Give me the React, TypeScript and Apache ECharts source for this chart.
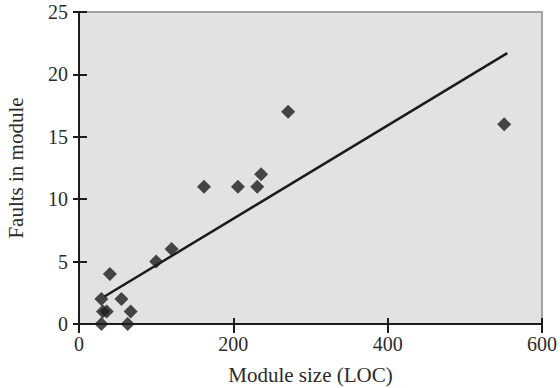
import React, { useEffect, useRef } from "react";
import * as echarts from "echarts";

const moduleSizes = [29, 63, 31, 36, 67, 29, 55, 40, 100, 120, 162, 206, 231, 236, 271, 551];
const faults = [0, 0, 1, 1, 1, 2, 2, 4, 5, 6, 11, 11, 11, 12, 17, 16];
const trendX = [33, 555];
const trendY = [2.2, 21.7];
const xTicks = { min: 0, max: 600, interval: 200 };
const yTicks = { min: 0, max: 25, interval: 5 };

const INK = "#1e1b1c";
const FONT = "Liberation Serif";

export default function App() {
  const ref = useRef<HTMLDivElement>(null);
  useEffect(() => {
    if (!ref.current) return;
    const chart = echarts.init(ref.current, null, { renderer: "svg" });
    const labelStyle = { fontFamily: FONT, fontSize: 20, color: "#2b2b2b" };
    const nameStyle = { fontFamily: FONT, fontSize: 21, color: "#2b2b2b" };
    const axisLine = { show: true, onZero: false, lineStyle: { color: INK, width: 2 } };
    chart.setOption({
      animation: false,
      backgroundColor: "#ffffff",
      grid: {
        left: 79,
        right: 18,
        top: 12,
        bottom: 64,
        show: true,
        outerBoundsMode: "none",
        containLabel: false,
        backgroundColor: "#e1e2e4",
        borderColor: "#a3a3a3",
        borderWidth: 2,
      },
      xAxis: [
        {
          type: "value",
          position: "bottom",
          ...xTicks,
          axisLine,
          axisTick: { show: true, inside: false, length: 9, lineStyle: { color: INK, width: 2 } },
          axisLabel: { ...labelStyle, margin: 10 },
          splitLine: { show: false },
          name: "Module size (LOC)",
          nameLocation: "middle",
          nameGap: 40,
          nameTextStyle: { ...nameStyle },
        },
        {
          type: "value",
          position: "bottom",
          ...xTicks,
          axisLine,
          axisTick: { show: true, inside: true, length: 6, lineStyle: { color: INK, width: 2 } },
          axisLabel: { show: false },
          splitLine: { show: false },
        },
      ],
      yAxis: [
        {
          type: "value",
          position: "left",
          ...yTicks,
          axisLine,
          axisTick: { show: true, inside: false, length: 6, lineStyle: { color: INK, width: 2 } },
          axisLabel: { ...labelStyle, margin: 11 },
          splitLine: { show: false },
          name: "Faults in module",
          nameLocation: "middle",
          nameGap: 53,
          nameTextStyle: { ...nameStyle },
        },
        {
          type: "value",
          position: "left",
          ...yTicks,
          axisLine,
          axisTick: { show: true, inside: true, length: 8, lineStyle: { color: INK, width: 2 } },
          axisLabel: { show: false },
          splitLine: { show: false },
        },
      ],
      series: [
        {
          type: "line",
          xAxisIndex: 0,
          yAxisIndex: 0,
          data: trendX.map((x, i) => [x, trendY[i]]),
          symbol: "none",
          lineStyle: { color: INK, width: 2.5 },
          z: 2,
        },
        {
          type: "scatter",
          xAxisIndex: 0,
          yAxisIndex: 0,
          data: moduleSizes.map((x, i) => [x, faults[i]]),
          symbol: "diamond",
          symbolSize: 14,
          itemStyle: { color: INK },
          z: 3,
        },
      ],
    });
    return () => chart.dispose();
  }, []);
  return <div ref={ref} style={{ width: 560, height: 388, position: "absolute", left: 0, top: 0 }} />;
}
